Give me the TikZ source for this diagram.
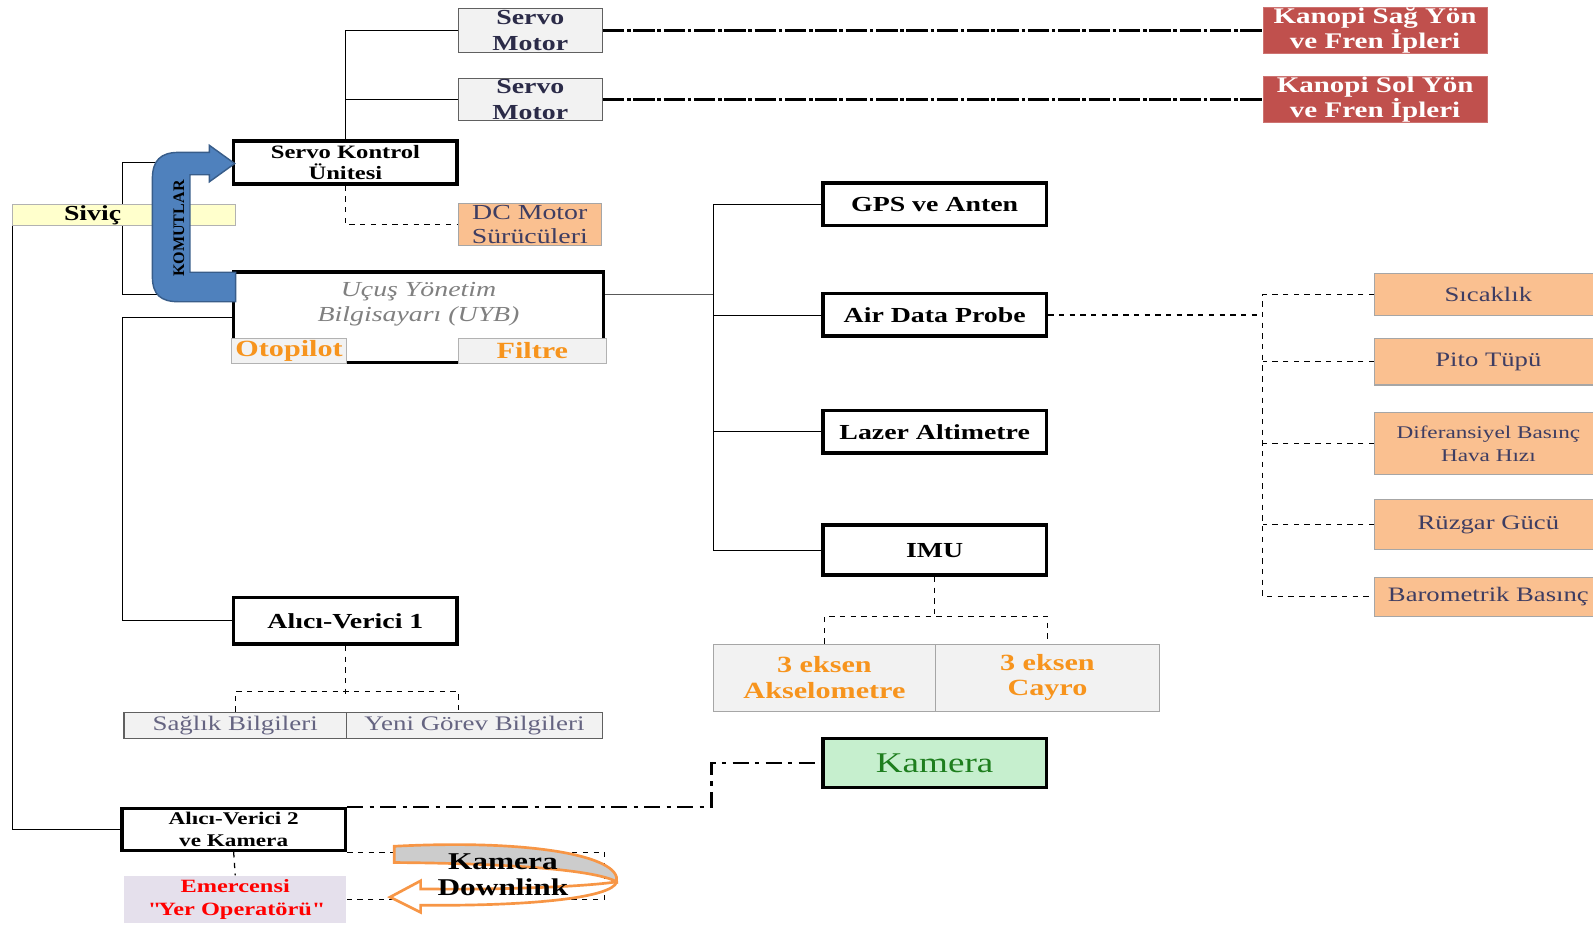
\documentclass[tikz,border=0pt]{standalone}
\usepackage{fontspec}
\setmainfont{Liberation Serif}[FakeStretch=1.3]
\newfontfamily\plainserif{Liberation Serif}
\usepackage{tikz}

\definecolor{peach}{HTML}{FAC090}
\definecolor{kanred}{HTML}{C0504D}
\definecolor{boxgray}{HTML}{F2F2F2}
\definecolor{sivyellow}{HTML}{FFFFCC}
\definecolor{lavender}{HTML}{E5E0EC}
\definecolor{kamgreen}{HTML}{C6EFCE}
\definecolor{kamtext}{HTML}{1E7E1E}
\definecolor{txtorange}{HTML}{F7941D}
\definecolor{navytxt}{HTML}{3E3D62}
\definecolor{servotxt}{HTML}{2B2B48}
\definecolor{komblue}{HTML}{4F81BD}
\definecolor{komedge}{HTML}{385D8A}
\definecolor{dlorange}{HTML}{F79646}

\begin{document}
\begin{tikzpicture}[x=0.02cm, y=-0.02cm,
  thk/.style={draw=black, line width=2pt, fill=white, align=center, inner sep=0pt,
    font=\bfseries\fontsize{12}{14}\selectfont},
  gry/.style={draw=gray!75!black, line width=0.6pt, fill=boxgray, align=center, inner sep=0pt},
  org/.style={draw=gray!70, line width=0.6pt, fill=peach, text=navytxt, align=center, inner sep=0pt,
    font=\fontsize{11.5}{14}\selectfont},
  kan/.style={fill=kanred, draw=kanred!80!white, text=white, align=center, inner sep=0pt,
    font=\bfseries\fontsize{12.5}{14.2}\selectfont},
  orng/.style={text=txtorange, font=\bfseries\fontsize{13}{14.2}\selectfont},
  dsh/.style={dashed, line width=0.7pt},
  lng/.style={line width=1.4pt, dash pattern=on 12pt off 1.5pt on 2pt off 1.5pt},
  dd/.style={line width=1.5pt, dash pattern=on 9pt off 3.5pt on 2.5pt off 3.5pt}]

\useasboundingbox (0,0) rectangle (1568,911);

% top: servo motors and kanopi lines
\node[gry, minimum width=2.84cm, minimum height=0.88cm, text=servotxt,
  font=\bfseries\fontsize{12}{14.2}\selectfont] (servo1) at (522,30) {Servo\\Motor};
\node[gry, minimum width=2.84cm, minimum height=0.84cm, text=servotxt,
  font=\bfseries\fontsize{12}{14.2}\selectfont] (servo2) at (522,98) {Servo\\Motor};
\node[kan, minimum width=4.42cm, minimum height=0.92cm] (kan1) at (1353.5,30) {Kanopi Sağ Yön\\ve Fren İpleri};
\node[kan, minimum width=4.42cm, minimum height=0.84cm] (kan2) at (1353.5,98) {Kanopi Sol Yön\\ve Fren İpleri};

\draw[lng] (servo1.east) -- (kan1.west);
\draw[lng] (servo2.east) -- (kan2.west);

\node[thk, minimum width=4.4cm, minimum height=0.84cm,
  font=\bfseries\fontsize{10.6}{12}\selectfont] (sku) at (340,160) {Servo Kontrol\\Ünitesi};
\node[org, minimum width=2.82cm, minimum height=0.84cm,
  font=\fontsize{12}{13.6}\selectfont] (dcm) at (521.5,221) {DC Motor\\Sürücüleri};

\draw (sku.north) |- (servo1.west);
\draw (sku.north |- servo2.west) -- (servo2.west);
\draw[dsh] (sku.south) |- (dcm.west);

% flight computer
\node[thk, minimum width=7.28cm, minimum height=1.78cm, text depth=0.62cm, text=gray,
  font=\itshape\fontsize{12}{14}\selectfont] (uyb) at (412,312.5) {Uçuş Yönetim\\Bilgisayarı (UYB)};
\node[gry, draw=gray!60, minimum width=2.26cm, minimum height=0.5cm, orng] (oto) at (284.5,345.5) {Otopilot};
\node[gry, draw=gray!60, minimum width=2.92cm, minimum height=0.5cm, orng] (fil) at (524,345.5) {Filtre};

\node[thk, minimum width=4.4cm, minimum height=0.92cm] (av1) at (340,611) {Alıcı-Verici 1};
\node[gry, minimum width=4.38cm, minimum height=0.52cm, text=navytxt!80,
  font=\fontsize{11.6}{13}\selectfont] (sag) at (231.5,714) {Sağlık Bilgileri};
\node[gry, minimum width=5.04cm, minimum height=0.52cm, text=navytxt!80,
  font=\fontsize{11.6}{13}\selectfont] (yeni) at (467,714) {Yeni Görev Bilgileri};

\node[thk, minimum width=4.4cm, minimum height=0.82cm,
  font=\bfseries\fontsize{10}{12.5}\selectfont] (av2) at (230,816.5) {Alıcı-Verici 2\\ve Kamera};
\node[fill=lavender, minimum width=4.38cm, minimum height=0.94cm, align=center, inner sep=0pt, text=red,
  font=\bfseries\fontsize{10.5}{12.5}\selectfont] (eme) at (231.5,885.5) {Emercensi\\\textquotedbl Yer Operatörü\textquotedbl};

% left side lines
\draw (sku.west) -- ++(-108,0) |- ([yshift=0.45cm]uyb.west);
\draw (uyb.west) -- ++(-108,0) |- (av1.west);
\draw[dsh] (av1.south) -- ++(0,47);
\draw[dsh] (sag.north) -- ++(0,-20) -| ([xshift=-0.32cm]yeni.north);

\node[draw=gray!60, fill=sivyellow, minimum width=4.4cm, minimum height=0.42cm, inner sep=0pt,
  text width=4.4cm, align=left, font=\bfseries\fontsize{12}{14}\selectfont] (siv) at (122,211.5) {\hspace*{1.02cm}Siviç};
\draw ([xshift=0.3pt]siv.south west) |- (av2.west);

% komutlar arrow
\filldraw[fill=komblue, draw=komedge, line width=0.8pt]
  (232,297) -- (176,297) .. controls (158,297) and (150,290) .. (150,272) -- (150,176)
  .. controls (150,158) and (158,150) .. (176,150) -- (206,150) -- (206,143) -- (231,161)
  -- (206,179) -- (206,172) -- (187,172) -- (187,268) -- (232,268) -- cycle;
\node[rotate=90, font=\plainserif\bfseries\fontsize{9}{10}\selectfont] (kom) at (176,225) {KOMUTLAR};

% sensors
\node[thk, minimum width=4.4cm, minimum height=0.84cm] (gps) at (920,201) {GPS ve Anten};
\node[thk, minimum width=4.4cm, minimum height=0.84cm] (adp) at (920,310) {Air Data Probe};
\node[thk, minimum width=4.4cm, minimum height=0.84cm] (lzr) at (920,425) {Lazer Altimetre};
\node[thk, minimum width=4.4cm, minimum height=0.98cm] (imu) at (920,541.5) {IMU};
\node[gry, draw=gray!70, minimum width=4.38cm, minimum height=1.32cm, orng] (aks) at (811.5,667) {3 eksen\\Akselometre};
\node[gry, draw=gray!70, minimum width=4.4cm, minimum height=1.32cm, orng] (cay) at (1031,667) {3 eksen\\Cayro};

\coordinate (bus) at (702,290);
\draw ([yshift=0.45cm]uyb.east) -- (bus);
\draw (gps.west) -| (bus |- imu.west) -- (imu.west);
\draw (adp.west) -- (adp.west -| bus);
\draw (lzr.west) -- (lzr.west -| bus);
\draw[dsh] (imu.south) -- ++(0,41);
\draw[dsh] (aks.north) -- ++(0,-27) -| (cay.north);

\node[org, minimum width=4.48cm, minimum height=0.84cm] (sic) at (1465,290) {Sıcaklık};
\node[org, minimum width=4.48cm, minimum height=0.92cm] (pito) at (1465,356) {Pito Tüpü};
\node[org, minimum width=4.48cm, minimum height=1.22cm,
  font=\fontsize{10}{13}\selectfont] (dif) at (1465,436.5) {Diferansiyel Basınç\\Hava Hızı};
\node[org, minimum width=4.48cm, minimum height=0.98cm] (ruz) at (1465,516.5) {Rüzgar Gücü};
\node[org, minimum width=4.48cm, minimum height=0.78cm] (bar) at (1465,587.5) {Barometrik Basınç};

\coordinate (rbus) at (1243,310);
\draw[dsh] (adp.east) -- (rbus);
\draw[dsh] (sic.west) -| (rbus |- bar.west) -- (bar.west);
\draw[dsh] (pito.west) -- (pito.west -| rbus);
\draw[dsh] (dif.west) -- (dif.west -| rbus);
\draw[dsh] (ruz.west) -- (ruz.west -| rbus);

% camera
\node[thk, fill=kamgreen, minimum width=4.4cm, minimum height=0.96cm, text=kamtext,
  font=\fontsize{16}{18}\selectfont] (kam) at (920,751) {Kamera};
\draw[dd] (av2.north east) -| ([xshift=-2.16cm]kam.west) -- (kam.west);

\draw[dsh] (av2.south) -- (eme.north);
\draw[dsh] (av2.south east) -- ++(253,0) |- (eme.east);

% downlink arrow
\filldraw[fill=gray!40, draw=dlorange, line width=1.5pt]
  (388,833) .. controls (520,826) and (612,842) .. (607,868)
  .. controls (590,858) and (520,850) .. (388,849) -- cycle;
\filldraw[fill=white, draw=dlorange, line width=1.5pt]
  (607,868) .. controls (603,884) and (520,892) .. (414,891) -- (414,898) -- (384,883)
  -- (414,867) -- (414,875) .. controls (510,876) and (580,872) .. (607,868);
\node[align=center, font=\bfseries\fontsize{13.5}{14.7}\selectfont] (dl) at (495,861) {Kamera\\Downlink};

\end{tikzpicture}
\end{document}
